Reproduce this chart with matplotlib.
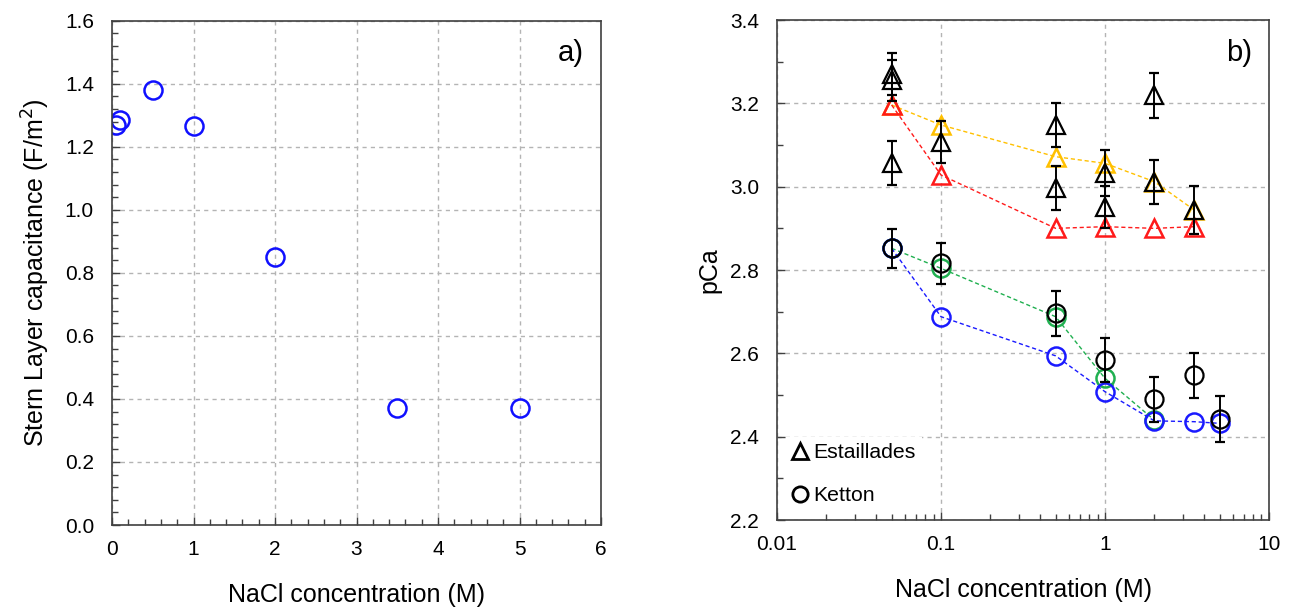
import numpy as np
import matplotlib
matplotlib.use("Agg")
import matplotlib.pyplot as plt
from matplotlib.lines import Line2D
from matplotlib.ticker import MultipleLocator, LogLocator, NullFormatter

plt.rcParams['font.family'] = ['Liberation Sans', 'DejaVu Sans']

# (a) Stern layer capacitance vs NaCl
nacl_a = [0.05, 0.1, 0.5, 1, 2, 3.5, 5]
cap_a = [1.268, 1.284, 1.379, 1.266, 0.851, 0.371, 0.371]

# (b) pCa, Estaillades (triangles)
est_x = [0.05, 0.05, 0.05, 0.1, 0.5, 0.5, 1, 1, 2, 2, 3.5]
est_y = [3.27, 3.255, 3.056, 3.108, 3.148, 2.996, 3.032, 2.952, 3.22, 3.012, 2.944]
est_err = [0.05, 0.05, 0.053, 0.05, 0.053, 0.053, 0.055, 0.05, 0.054, 0.053, 0.057]

est_red_x = [0.05, 0.1, 0.5, 1, 2, 3.5]
est_red_y = [3.196, 3.028, 2.90, 2.904, 2.90, 2.904]
est_yel_x = [0.05, 0.1, 0.5, 1, 2, 3.5]
est_yel_y = [3.196, 3.148, 3.072, 3.056, 3.012, 2.944]

# (b) pCa, Ketton (circles)
ket_x = [0.05, 0.1, 0.5, 1, 2, 3.5, 5]
ket_y = [2.852, 2.816, 2.696, 2.584, 2.49, 2.548, 2.442]
ket_err = [0.047, 0.05, 0.054, 0.052, 0.054, 0.054, 0.055]

ket_blue_x = [0.05, 0.1, 0.5, 1, 2, 3.5, 5]
ket_blue_y = [2.852, 2.688, 2.594, 2.508, 2.438, 2.436, 2.432]
ket_green_x = [0.05, 0.1, 0.5, 1, 2]
ket_green_y = [2.852, 2.804, 2.688, 2.54, 2.44]

fig = plt.figure(figsize=(12.92, 6.10), dpi=100)
ax1 = fig.add_axes([0.0867, 0.1393, 0.3785, 0.8268])
ax2 = fig.add_axes([0.6014, 0.1475, 0.3808, 0.8197])

grid_kw = dict(color='#b4b4b4', linestyle=(0, (3, 3)), linewidth=1.0)
for ax in (ax1, ax2):
    for s in ax.spines.values():
        s.set_color('#404040')
        s.set_linewidth(1.2)
    ax.grid(True, which='major', **grid_kw)
    ax.set_axisbelow(True)
    ax.tick_params(which='both', direction='in', top=False, right=False,
                   labelsize=15, color='#404040')
    ax.tick_params(axis='x', which='both', pad=11)
    ax.tick_params(axis='y', which='both', pad=13)
    ax.tick_params(which='major', length=6, width=1.0)
    ax.tick_params(which='minor', length=4, width=1.0)

# --- panel a ---
ax1.plot(nacl_a, cap_a, 'o', ms=13, mfc='none', mec='#1010ff', mew=1.8)
ax1.set_xlim(0, 6)
ax1.set_ylim(0, 1.6)
ax1.xaxis.set_major_locator(MultipleLocator(1))
ax1.xaxis.set_minor_locator(MultipleLocator(0.2))
ax1.yaxis.set_major_locator(MultipleLocator(0.2))
ax1.yaxis.set_minor_locator(MultipleLocator(0.04))
ax1.yaxis.set_major_formatter(matplotlib.ticker.FormatStrFormatter('%.1f'))
ax1.set_xlabel('NaCl concentration (M)', fontsize=18, labelpad=17)
ax1.set_ylabel('Stern Layer capacitance (F/m$^2$)', fontsize=18, labelpad=9)
ax1.text(0.939, 0.935, 'a)', transform=ax1.transAxes, fontsize=21,
         ha='center', va='center')

# --- panel b ---
dash = (0, (3, 2))
ax2.plot(est_yel_x, est_yel_y, '^', ls=dash, lw=1.0, color='#ffc000',
         ms=13, mfc='none', mew=1.8)
ax2.plot(est_red_x, est_red_y, '^', ls=dash, lw=1.0, color='#ff1a1a',
         ms=13, mfc='none', mew=1.8)
ax2.plot(ket_green_x, ket_green_y, 'o', ls=dash, lw=1.0, color='#20b050',
         ms=13, mfc='none', mew=1.8)
ax2.plot(ket_blue_x, ket_blue_y, 'o', ls=dash, lw=1.0, color='#1a1aff',
         ms=13, mfc='none', mew=1.8)
ax2.errorbar(est_x, est_y, yerr=est_err, fmt='^', color='black', ms=13,
             mfc='none', mew=1.6, elinewidth=1.4, capsize=3.5, capthick=1.4)
ax2.errorbar(ket_x, ket_y, yerr=ket_err, fmt='o', color='black', ms=13,
             mfc='none', mew=1.6, elinewidth=1.4, capsize=3.5, capthick=1.4)

ax2.set_xscale('log')
ax2.set_xlim(0.01, 10)
ax2.set_ylim(2.2, 3.4)
ax2.xaxis.set_major_locator(LogLocator(base=10))
ax2.xaxis.set_minor_locator(LogLocator(base=10, subs=np.arange(2, 10)))
ax2.xaxis.set_minor_formatter(NullFormatter())
ax2.xaxis.set_major_formatter(matplotlib.ticker.FuncFormatter(lambda v, p: f'{v:g}'))
ax2.yaxis.set_major_locator(MultipleLocator(0.2))
ax2.yaxis.set_minor_locator(MultipleLocator(0.1))
ax2.yaxis.set_major_formatter(matplotlib.ticker.FormatStrFormatter('%.1f'))
ax2.set_xlabel('NaCl concentration (M)', fontsize=18, labelpad=17)
ax2.set_ylabel('pCa', fontsize=18, labelpad=6)
ax2.text(0.939, 0.935, 'b)', transform=ax2.transAxes, fontsize=21,
         ha='center', va='center')

handles = [Line2D([], [], marker='^', ls='none', color='black', mfc='none',
                  ms=11, mew=2.0),
           Line2D([], [], marker='o', ls='none', color='black', mfc='none',
                  ms=11, mew=2.0)]
leg = ax2.legend(handles, ['Estaillades', 'Ketton'], loc='lower left',
                 fontsize=15.3, frameon=True, fancybox=False, framealpha=1,
                 edgecolor='none', facecolor='white', handlelength=0.8,
                 handletextpad=0.2, labelspacing=1.13, borderpad=0.3,
                 borderaxespad=0.4)

fig.savefig('out.png', dpi=100)
